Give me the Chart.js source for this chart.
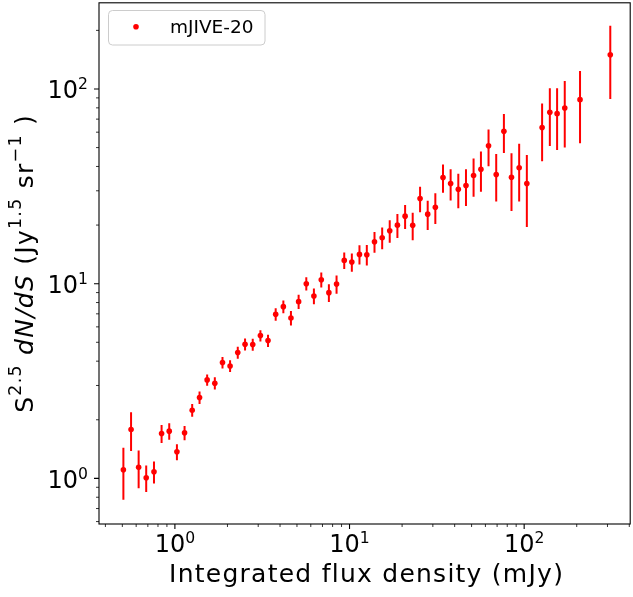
<!DOCTYPE html>
<html>
<head>
<meta charset="utf-8">
<script src="https://cdn.jsdelivr.net/npm/chart.js@4.4.0/dist/chart.umd.min.js"></script>
<style>
  html, body { margin: 0; padding: 0; background: #fff; }
  canvas { display: block; }
</style>
</head>
<body>
<canvas id="myChart" width="633" height="597"></canvas>
<script>
/*----------------------------- data -----------------------------*/
const seriesName = 'mJIVE-20';

// bin centres (mJy)
const fluxMJy = [
    0.507, 0.561, 0.620, 0.685, 0.759, 0.839, 0.928, 1.027, 1.136, 1.256,
    1.384, 1.530, 1.693, 1.873, 2.070, 2.291, 2.522, 2.791, 3.088, 3.414,
    3.777, 4.179, 4.619, 5.111, 5.655, 6.252, 6.891, 7.617, 8.428, 9.326,
    10.31, 11.40, 12.56, 13.90, 15.38, 16.99, 18.80, 20.81, 23.00, 25.35,
    28.03, 31.00, 34.30, 37.93, 41.97, 46.44, 51.33, 56.56, 62.52, 69.18,
    76.56, 84.62, 93.63, 103.6, 126.7, 140.3, 154.4, 170.8, 208.9, 311.3
];
// S^2.5 dN/dS
const countsS25 = [
    1.107, 1.784, 1.139, 1.007, 1.081, 1.701, 1.748, 1.369, 1.713, 2.240,
    2.603, 3.204, 3.082, 3.935, 3.780, 4.428, 4.884, 4.867, 5.412, 5.101,
    6.960, 7.622, 6.664, 8.085, 10.00, 8.639, 10.48, 8.991, 9.953, 13.17,
    12.91, 14.14, 14.09, 16.42, 17.22, 18.70, 19.98, 22.22, 19.93, 27.38,
    22.75, 24.71, 35.09, 32.69, 30.56, 31.92, 35.93, 38.70, 51.03, 36.36,
    60.62, 35.22, 39.35, 32.69, 63.32, 75.86, 74.70, 79.90, 88.13, 149.9
];
// 1-sigma errors
const countsErr = [
    0.33, 0.40, 0.25, 0.156, 0.14, 0.18, 0.17, 0.13, 0.144, 0.167,
    0.19, 0.215, 0.223, 0.269, 0.261, 0.312, 0.347, 0.345, 0.36, 0.373,
    0.519, 0.563, 0.574, 0.678, 0.78, 0.80, 0.925, 0.946, 1.07, 1.29,
    1.40, 1.60, 1.70, 1.985, 2.195, 2.485, 2.795, 3.11, 3.235, 4.115,
    3.88, 4.45, 5.8, 5.96, 6.16, 6.83, 7.97, 9.07, 10.91, 9.96,
    13.67, 11.59, 12.93, 13.14, 20.78, 24.9, 26.15, 29.9, 35.55, 61.2
];

const xMajorTicks = [1, 10, 100];
const xTickLabels = ['10^0', '10^1', '10^2'];
const yMajorTicks = [1, 10, 100];
const yTickLabels = ['10^0', '10^1', '10^2'];

/*---------------------------- helpers ---------------------------*/
const FONT = "'DejaVu Sans'";
const RED = '#ff0000';

function minorTicks(min, max) {
    const out = [];
    for (let e = -2; e <= 3; e++) {
        for (let m = 2; m <= 9; m++) {
            const v = m * Math.pow(10, e);
            if (v >= min && v <= max) out.push(v);
        }
    }
    return out;
}

// runs: [{t, sup, it}]
function runFont(r, size, supScale) {
    const s = r.sup ? size * supScale : size;
    return (r.it ? 'italic ' : '') + s + 'px ' + FONT;
}
function richWidth(ctx, runs, size, supScale) {
    let w = 0;
    runs.forEach(r => { ctx.font = runFont(r, size, supScale); w += ctx.measureText(r.t).width; });
    return w;
}
function drawRich(ctx, runs, x, y, size, supScale, rise) {
    runs.forEach(r => {
        ctx.font = runFont(r, size, supScale);
        ctx.fillText(r.t, x, r.sup ? y - rise : y);
        x += ctx.measureText(r.t).width;
    });
}
function powerRuns(label) {
    const p = label.split('^');
    return [{ t: p[0] }, { t: p[1], sup: true }];
}

/*---------------------------- plugins ---------------------------*/
const errorBars = {
    id: 'errorBars',
    beforeDatasetsDraw(chart) {
        const ctx = chart.ctx, xs = chart.scales.x, ys = chart.scales.y, a = chart.chartArea;
        ctx.save();
        ctx.beginPath();
        ctx.rect(a.left, a.top, a.right - a.left, a.bottom - a.top);
        ctx.clip();
        ctx.strokeStyle = RED;
        ctx.lineWidth = 2;
        fluxMJy.forEach((f, i) => {
            const px = xs.getPixelForValue(f);
            const hi = countsS25[i] + countsErr[i];
            const lo = Math.max(countsS25[i] - countsErr[i], ys.min * 0.5);
            ctx.beginPath();
            ctx.moveTo(px, ys.getPixelForValue(hi));
            ctx.lineTo(px, ys.getPixelForValue(lo));
            ctx.stroke();
        });
        ctx.restore();
    }
};

const axesDecor = {
    id: 'axesDecor',
    afterDraw(chart) {
        const ctx = chart.ctx, xs = chart.scales.x, ys = chart.scales.y, a = chart.chartArea;
        ctx.save();
        ctx.fillStyle = '#000';
        ctx.strokeStyle = '#000';

        // frame
        ctx.lineWidth = 1.1;
        ctx.strokeRect(a.left, a.top, a.right - a.left, a.bottom - a.top);

        // ticks
        const tick = (w, pts) => {
            ctx.lineWidth = w;
            ctx.beginPath();
            pts.forEach(p => { ctx.moveTo(p[0], p[1]); ctx.lineTo(p[2], p[3]); });
            ctx.stroke();
        };
        tick(1.1, xMajorTicks.map(v => { const px = xs.getPixelForValue(v); return [px, a.bottom, px, a.bottom + 5]; }));
        tick(0.8, minorTicks(xs.min, xs.max).map(v => { const px = xs.getPixelForValue(v); return [px, a.bottom, px, a.bottom + 3]; }));
        tick(1.1, yMajorTicks.map(v => { const py = ys.getPixelForValue(v); return [a.left, py, a.left - 5, py]; }));
        tick(0.8, minorTicks(ys.min, ys.max).map(v => { const py = ys.getPixelForValue(v); return [a.left, py, a.left - 3, py]; }));

        // tick labels
        ctx.textBaseline = 'alphabetic';
        ctx.textAlign = 'left';
        xMajorTicks.forEach((v, i) => {
            const runs = powerRuns(xTickLabels[i]);
            const w = richWidth(ctx, runs, 24, 0.65);
            drawRich(ctx, runs, xs.getPixelForValue(v) - w / 2, a.bottom + 28.3, 24, 0.65, 9);
        });
        yMajorTicks.forEach((v, i) => {
            const runs = powerRuns(yTickLabels[i]);
            const w = richWidth(ctx, runs, 24, 0.65);
            drawRich(ctx, runs, a.left - 11 - w, ys.getPixelForValue(v) + 9.4, 24, 0.65, 9);
        });

        // axis titles
        ctx.letterSpacing = '1.25px';
        const xTitle = [{ t: 'Integrated flux density (mJy)' }];
        const xw = richWidth(ctx, xTitle, 25, 0.7);
        drawRich(ctx, xTitle, (a.left + a.right) / 2 + 2 - xw / 2, 582.3, 25, 0.7, 12);

        const yTitle = [
            { t: 'S' }, { t: '2.5', sup: true }, { t: ' ' }, { t: 'dN/dS', it: true },
            { t: ' (Jy' }, { t: '1.5', sup: true }, { t: ' sr' }, { t: '\u22121', sup: true }, { t: ' )' }
        ];
        const yw = richWidth(ctx, yTitle, 25, 0.7);
        ctx.translate(33, (a.top + a.bottom) / 2);
        ctx.rotate(-Math.PI / 2);
        drawRich(ctx, yTitle, -yw / 2, 0, 25, 0.7, 12);
        ctx.setTransform(1, 0, 0, 1, 0, 0);
        ctx.letterSpacing = '0px';

        // legend
        const lx = 108.5, ly = 10.5, lw = 156.5, lh = 34.5;
        ctx.beginPath();
        ctx.roundRect(lx, ly, lw, lh, 4);
        ctx.fillStyle = 'rgba(255,255,255,0.8)';
        ctx.fill();
        ctx.strokeStyle = '#cccccc';
        ctx.lineWidth = 1;
        ctx.stroke();
        ctx.fillStyle = RED;
        ctx.beginPath();
        ctx.arc(136, 26.7, 2.8, 0, Math.PI * 2);
        ctx.fill();
        ctx.fillStyle = '#000';
        ctx.font = '18.5px ' + FONT;
        ctx.fillText(chart.data.datasets[0].label, 170, 33.3);

        ctx.restore();
    }
};

/*----------------------------- chart ----------------------------*/
const points = fluxMJy.map((f, i) => ({ x: f, y: countsS25[i] }));

const config = {
    type: 'scatter',
    data: {
        datasets: [{
            label: seriesName,
            data: points,
            pointRadius: 2.8,
            pointHoverRadius: 2.8,
            backgroundColor: RED,
            borderWidth: 0
        }]
    },
    options: {
        responsive: false,
        devicePixelRatio: 1,
        animation: false,
        layout: {
            padding: { left: 99, top: 2, right: 2, bottom: 73 }
        },
        plugins: {
            legend: { display: false },
            tooltip: { enabled: false }
        },
        scales: {
            x: { type: 'logarithmic', min: 0.3676, max: 404.8, display: false },
            y: { type: 'logarithmic', min: 0.583, max: 277.1, display: false }
        }
    },
    plugins: [errorBars, axesDecor]
};

const myChart = new Chart(document.getElementById('myChart'), config);
</script>
</body>
</html>
